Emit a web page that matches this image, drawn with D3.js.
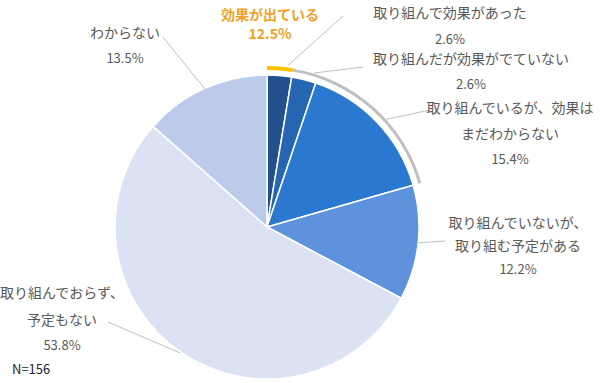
<!DOCTYPE html>
<html><head><meta charset="utf-8">
<script src="https://cdn.jsdelivr.net/npm/d3@7"></script>
<style>body{margin:0;background:#fff}svg{display:block}</style>
</head><body><svg id="c" width="600" height="383"></svg>
<script>
const categories = ["取り組んで効果があった","取り組んだが効果がでていない","取り組んでいるが、効果はまだわからない","取り組んでいないが、取り組む予定がある","取り組んでおらず、予定もない","わからない"];
const values = [2.6, 2.6, 15.4, 12.2, 53.8, 13.5];
const colors = ["#21508C","#2566B2","#2A78CF","#5F92DC","#DBE2F3","#BDCBEA"];
const labelLines = [["取り組んで効果があった"],["取り組んだが効果がでていない"],["取り組んでいるが、効果は","まだわからない"],["取り組んでいないが、","取り組む予定がある"],["取り組んでおらず、","予定もない"],["わからない"]];
const highlightLabel = ["効果が出ている","12.5%"];
const sampleNote = "N=156";

// layout (positions only)
const cx = 267, cy = 227, R = 152;
const labelPos = [
  {x:450, y:[13,39], a:7.4, r:163, ex:343, ey:16},
  {x:471, y:[59,84], a:17, r:161, ex:363, ey:67},
  {x:510, y:[108,134,159], a:48, r:161, ex:430, ey:110},
  {x:518, y:[223,246,269], a:96, r:152, ex:445, ey:241},
  {x:62, y:[293,320,345], a:214.6, r:153, ex:108, ey:322},
  {x:125, y:[33,58], a:335.8, r:151, ex:163, ey:37}
];

const svg = d3.select("#c");
const g = svg.append("g").attr("transform",`translate(${cx},${cy})`);
const pie = d3.pie().sort(null).value(d=>d);
const arcs = pie(values);
const arc = d3.arc().innerRadius(0).outerRadius(R);
g.selectAll("path.s").data(arcs).join("path").attr("class","s")
  .attr("d",arc).attr("fill",(d,i)=>colors[i]).attr("stroke","#fff").attr("stroke-width",1.5).attr("stroke-linejoin","round");

// highlight rings
g.append("path").attr("d", d3.arc()({innerRadius:157.5,outerRadius:160.5,startAngle:arcs[1].startAngle,endAngle:arcs[2].endAngle})).attr("fill","#BFBFBF");
g.append("path").attr("d", d3.arc()({innerRadius:157,outerRadius:161,startAngle:arcs[0].startAngle,endAngle:arcs[0].endAngle})).attr("fill","#FFC000");

const font = "'Noto Sans CJK JP','Noto Sans',sans-serif";
const tc = "#595959";
// leader lines
labelPos.forEach(p=>{
  const t = p.a*Math.PI/180;
  svg.append("line").attr("x1",cx+p.r*Math.sin(t)).attr("y1",cy-p.r*Math.cos(t))
    .attr("x2",p.ex).attr("y2",p.ey).attr("stroke","#BFBFBF").attr("stroke-width",1);
});
// labels
labelPos.forEach((p,i)=>{
  const lines = labelLines[i].concat([d3.format(".1f")(values[i])+"%"]);
  lines.forEach((s,j)=>{
    svg.append("text").attr("x",p.x).attr("y",p.y[j]).attr("dy","0.35em")
      .attr("text-anchor","middle").attr("font-family",font)
      .attr("font-size", j===lines.length-1?13:14).attr("fill",tc).text(s);
  });
});
// highlight label
highlightLabel.forEach((s,j)=>{
  svg.append("text").attr("x",270).attr("y",[15,34][j]).attr("dy","0.35em")
    .attr("text-anchor","middle").attr("font-family",font).attr("font-weight","bold")
    .attr("font-size",14).attr("fill","#F0A21E").text(s);
});
svg.append("text").attr("x",12).attr("y",369).attr("dy","0.35em").attr("font-family",font)
  .attr("font-size",13).attr("fill","#262626").text(sampleNote);
</script></body></html>
